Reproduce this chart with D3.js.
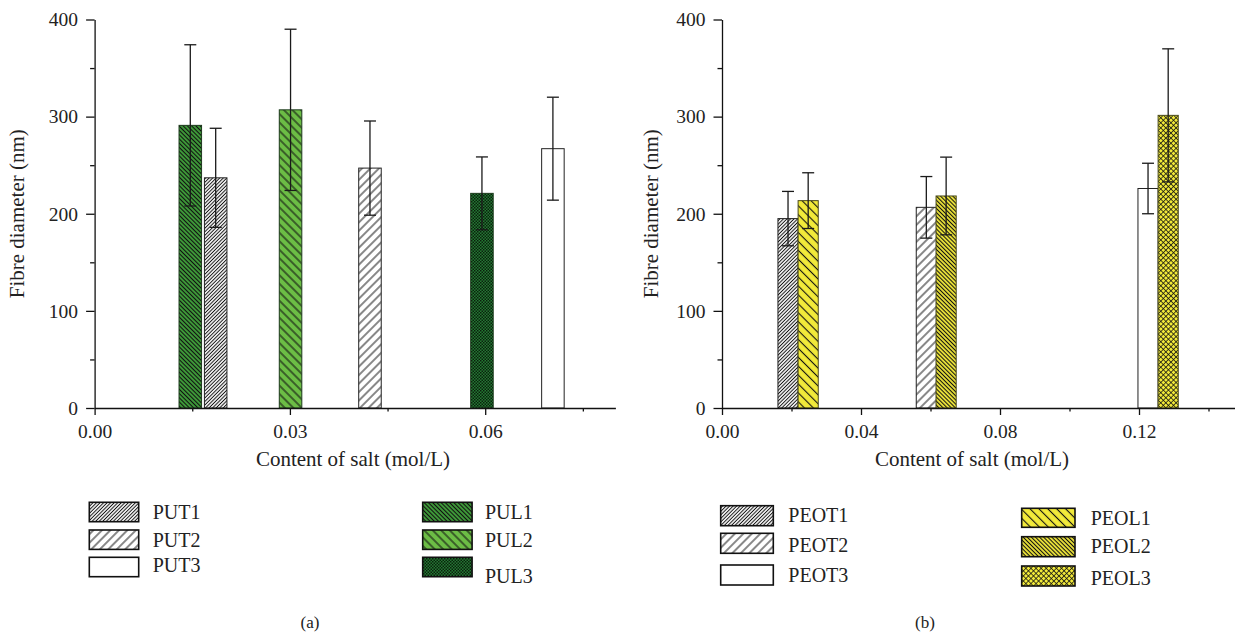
<!DOCTYPE html>
<html>
<head>
<meta charset="utf-8">
<script src="https://cdn.jsdelivr.net/npm/d3@7"></script>
<style>
  body { margin: 0; background: #fff; }
  svg { display: block; font-family: "Liberation Serif", "DejaVu Serif", serif; }
  svg text { font-family: "Liberation Serif", "DejaVu Serif", serif !important; }
</style>
</head>
<body>
<svg id="chart" width="1235" height="633"></svg>
<script>
// ---- data ----
// panel (a): PU fibres
const putNames = ["PUT1", "PUT2", "PUT3"];
const putX = [0.0186, 0.0423, 0.0704];
const putMean = [237, 247, 267];
const putErr = [51, 48.5, 53];

const pulNames = ["PUL1", "PUL2", "PUL3"];
const pulX = [0.0147, 0.0301, 0.0595];
const pulMean = [291, 307, 221];
const pulErr = [83, 83, 37.5];

// panel (b): PEO fibres
const peotNames = ["PEOT1", "PEOT2", "PEOT3"];
const peotX = [0.0190, 0.0588, 0.1226];
const peotMean = [195, 206.6, 226];
const peotErr = [28, 31.7, 26];

const peolNames = ["PEOL1", "PEOL2", "PEOL3"];
const peolX = [0.0248, 0.0645, 0.1284];
const peolMean = [213.5, 218.3, 301.3];
const peolErr = [28.7, 40, 68.5];

const yMajor = [0, 100, 200, 300, 400];
const yMinor = [50, 150, 250, 350];
const xMajorA = [0, 0.03, 0.06];
const xMinorA = [0.015, 0.045, 0.075];
const xMajorB = [0, 0.04, 0.08, 0.12];
const xMinorB = [0.02, 0.06, 0.10, 0.14];

const yTitle = "Fibre diameter (nm)";
const xTitle = "Content of salt (mol/L)";

const svg = d3.select("#chart");
const defs = svg.append("defs");

// hatch patterns: lines rotated by angle
function hatch(id, spacing, angle, bg, lw) {
  const p = defs.append("pattern")
    .attr("id", id)
    .attr("patternUnits", "userSpaceOnUse")
    .attr("width", spacing)
    .attr("height", spacing)
    .attr("patternTransform", `rotate(${angle})`);
  p.append("rect").attr("width", spacing).attr("height", spacing).attr("fill", bg);
  p.append("line")
    .attr("x1", spacing / 2).attr("y1", 0)
    .attr("x2", spacing / 2).attr("y2", spacing)
    .attr("stroke", "#111")
    .attr("stroke-width", lw);
}

hatch("dense-fwd", 2.5, 45, "#fff", 1.0);
hatch("sparse-fwd", 6.0, 45, "#fff", 1.0);
hatch("pul1", 3.0, -45, "#3f9e3a", 1.1);
hatch("pul2", 6.0, -45, "#6cbd45", 1.1);
hatch("peol1", 6.3, -45, "#f2ea3a", 1.1);
hatch("peol2", 2.9, -45, "#f2ea3a", 1.1);

// PUL3: dark green with dot texture
const dots = defs.append("pattern")
  .attr("id", "pul3")
  .attr("patternUnits", "userSpaceOnUse")
  .attr("width", 3).attr("height", 3);
dots.append("rect").attr("width", 3).attr("height", 3).attr("fill", "#237a33");
dots.append("rect").attr("width", 1.5).attr("height", 1.5).attr("fill", "#0b1f0d");
dots.append("rect").attr("x", 1.5).attr("y", 1.5).attr("width", 1.5).attr("height", 1.5).attr("fill", "#0b1f0d");

// PEOL3: yellow with black cross-hatch
const cross = defs.append("pattern")
  .attr("id", "peol3")
  .attr("patternUnits", "userSpaceOnUse")
  .attr("width", 3.6).attr("height", 3.6)
  .attr("patternTransform", "rotate(45)");
cross.append("rect").attr("width", 3.6).attr("height", 3.6).attr("fill", "#f2ea3a");
cross.append("line").attr("x1", 0).attr("y1", 0).attr("x2", 0).attr("y2", 3.6)
  .attr("stroke", "#111").attr("stroke-width", 1.5);
cross.append("line").attr("x1", 0).attr("y1", 0).attr("x2", 3.6).attr("y2", 0)
  .attr("stroke", "#111").attr("stroke-width", 1.5);

const y = d3.scaleLinear().domain([0, 400]).range([408, 19.5]);

function drawPanel(opt) {
  const x = d3.scaleLinear().domain(opt.domain).range(opt.range);
  const g = svg.append("g");

  // bars for each series
  opt.series.forEach((s) => {
    const rows = s.x.map((v, i) => ({ x: v, mean: s.mean[i], err: s.err[i], fill: s.fills[i] }));
    g.selectAll(null)
      .data(rows)
      .join("rect")
      .attr("x", (d) => x(d.x - opt.barW / 2))
      .attr("y", (d) => y(d.mean))
      .attr("width", (d) => x(d.x + opt.barW / 2) - x(d.x - opt.barW / 2))
      .attr("height", (d) => y(0) - y(d.mean))
      .attr("fill", (d) => d.fill)
      .attr("stroke", s.stroke)
      .attr("stroke-width", 1);
  });

  // error bars on top
  opt.series.forEach((s) => {
    const rows = s.x.map((v, i) => ({ x: v, mean: s.mean[i], err: s.err[i] }));
    const eb = g.selectAll(null).data(rows).join("g").attr("stroke", "#1a1a1a").attr("stroke-width", 1.3);
    eb.append("line")
      .attr("x1", (d) => x(d.x)).attr("x2", (d) => x(d.x))
      .attr("y1", (d) => y(d.mean + d.err)).attr("y2", (d) => y(d.mean - d.err));
    eb.append("line")
      .attr("x1", (d) => x(d.x) - 6).attr("x2", (d) => x(d.x) + 6)
      .attr("y1", (d) => y(d.mean + d.err)).attr("y2", (d) => y(d.mean + d.err));
    eb.append("line")
      .attr("x1", (d) => x(d.x) - 6).attr("x2", (d) => x(d.x) + 6)
      .attr("y1", (d) => y(d.mean - d.err)).attr("y2", (d) => y(d.mean - d.err));
  });

  // y axis
  const x0 = opt.range[0];
  const yAxis = g.append("g")
    .attr("transform", `translate(${x0},0)`)
    .call(d3.axisLeft(y).tickValues(yMajor).tickSize(8.5).tickPadding(8).tickSizeOuter(0));
  g.append("g")
    .attr("transform", `translate(${x0},0)`)
    .call(d3.axisLeft(y).tickValues(yMinor).tickSize(4.5).tickFormat("").tickSizeOuter(0))
    .select(".domain").remove();

  // x axis
  const xAxis = g.append("g")
    .attr("transform", `translate(0,${y(0)})`)
    .call(d3.axisBottom(x).tickValues(opt.xMajor).tickSize(7).tickPadding(9)
      .tickFormat(d3.format(".2f")).tickSizeOuter(0));
  g.append("g")
    .attr("transform", `translate(0,${y(0)})`)
    .call(d3.axisBottom(x).tickValues(opt.xMinor).tickSize(3.5).tickFormat("").tickSizeOuter(0))
    .select(".domain").remove();

  g.selectAll(".domain, .tick line").attr("stroke", "#111").attr("stroke-width", 1.3);
  [yAxis, xAxis].forEach((a) => {
    a.attr("font-family", null).attr("font-size", 19.5);
    a.selectAll("text").attr("fill", "#222");
  });

  // titles
  g.append("text")
    .attr("transform", `translate(${opt.yTitleX},${(y(0) + y(400)) / 2}) rotate(-90)`)
    .attr("text-anchor", "middle")
    .attr("font-size", 21)
    .attr("fill", "#222")
    .text(yTitle);
  g.append("text")
    .attr("x", opt.xTitleX)
    .attr("y", 466)
    .attr("text-anchor", "middle")
    .attr("font-size", 21)
    .attr("fill", "#222")
    .text(xTitle);

  // legend
  opt.legend.forEach((item) => {
    g.append("rect")
      .attr("x", item.bx).attr("y", item.by)
      .attr("width", item.bw).attr("height", item.bh)
      .attr("fill", item.fill)
      .attr("stroke", "#111")
      .attr("stroke-width", 1.6);
    g.append("text")
      .attr("x", item.tx).attr("y", item.ty)
      .attr("font-size", 20)
      .attr("fill", "#222")
      .text(item.name);
  });

  g.append("text")
    .attr("x", opt.panelX)
    .attr("y", 628)
    .attr("text-anchor", "middle")
    .attr("font-size", 17)
    .attr("fill", "#222")
    .text(opt.panel);
}

const putFills = ["url(#dense-fwd)", "url(#sparse-fwd)", "#fff"];
const pulFills = ["url(#pul1)", "url(#pul2)", "url(#pul3)"];
const peotFills = ["url(#dense-fwd)", "url(#sparse-fwd)", "#fff"];
const peolFills = ["url(#peol1)", "url(#peol2)", "url(#peol3)"];

drawPanel({
  domain: [0, 0.08],
  range: [94.6, 615.4],
  barW: 0.00346,
  xMajor: xMajorA,
  xMinor: xMinorA,
  yTitleX: 23.5,
  xTitleX: 353,
  panel: "(a)",
  panelX: 310,
  series: [
    { x: pulX, mean: pulMean, err: pulErr, fills: pulFills, stroke: "#1c3a1c" },
    { x: putX, mean: putMean, err: putErr, fills: putFills, stroke: "#222" },
  ],
  legend: [
    { name: putNames[0], fill: putFills[0], bx: 89.3, by: 502.3, bw: 49.4, bh: 19.4, tx: 152.7, ty: 519.3 },
    { name: putNames[1], fill: putFills[1], bx: 89.3, by: 530, bw: 49.4, bh: 19.4, tx: 152.7, ty: 547.3 },
    { name: putNames[2], fill: putFills[2], bx: 89.3, by: 557.3, bw: 49.4, bh: 19.4, tx: 152.7, ty: 571.7 },
    { name: pulNames[0], fill: pulFills[0], bx: 422.7, by: 502.3, bw: 49.4, bh: 19.4, tx: 485, ty: 519.3 },
    { name: pulNames[1], fill: pulFills[1], bx: 422.7, by: 530, bw: 49.4, bh: 19.4, tx: 485, ty: 547.3 },
    { name: pulNames[2], fill: pulFills[2], bx: 422.7, by: 557.3, bw: 49.4, bh: 19.4, tx: 485, ty: 583 },
  ],
});

drawPanel({
  domain: [0, 0.15],
  range: [722, 1243.25],
  barW: 0.0058,
  xMajor: xMajorB,
  xMinor: xMinorB,
  yTitleX: 657.5,
  xTitleX: 972,
  panel: "(b)",
  panelX: 925,
  series: [
    { x: peotX, mean: peotMean, err: peotErr, fills: peotFills, stroke: "#222" },
    { x: peolX, mean: peolMean, err: peolErr, fills: peolFills, stroke: "#4a4a1a" },
  ],
  legend: [
    { name: peotNames[0], fill: peotFills[0], bx: 720.7, by: 505.7, bw: 52.6, bh: 20, tx: 788.3, ty: 522.3 },
    { name: peotNames[1], fill: peotFills[1], bx: 720.7, by: 533.3, bw: 52.6, bh: 20, tx: 788.3, ty: 551.7 },
    { name: peotNames[2], fill: peotFills[2], bx: 720.7, by: 565, bw: 52.6, bh: 20, tx: 788.3, ty: 581.7 },
    { name: peolNames[0], fill: peolFills[0], bx: 1021.7, by: 508.3, bw: 53.3, bh: 19, tx: 1090.7, ty: 525 },
    { name: peolNames[1], fill: peolFills[1], bx: 1021.7, by: 536.7, bw: 53.3, bh: 20, tx: 1090.7, ty: 553.3 },
    { name: peolNames[2], fill: peolFills[2], bx: 1021.7, by: 566, bw: 53.3, bh: 20, tx: 1090.7, ty: 585 },
  ],
});
</script>
</body>
</html>
